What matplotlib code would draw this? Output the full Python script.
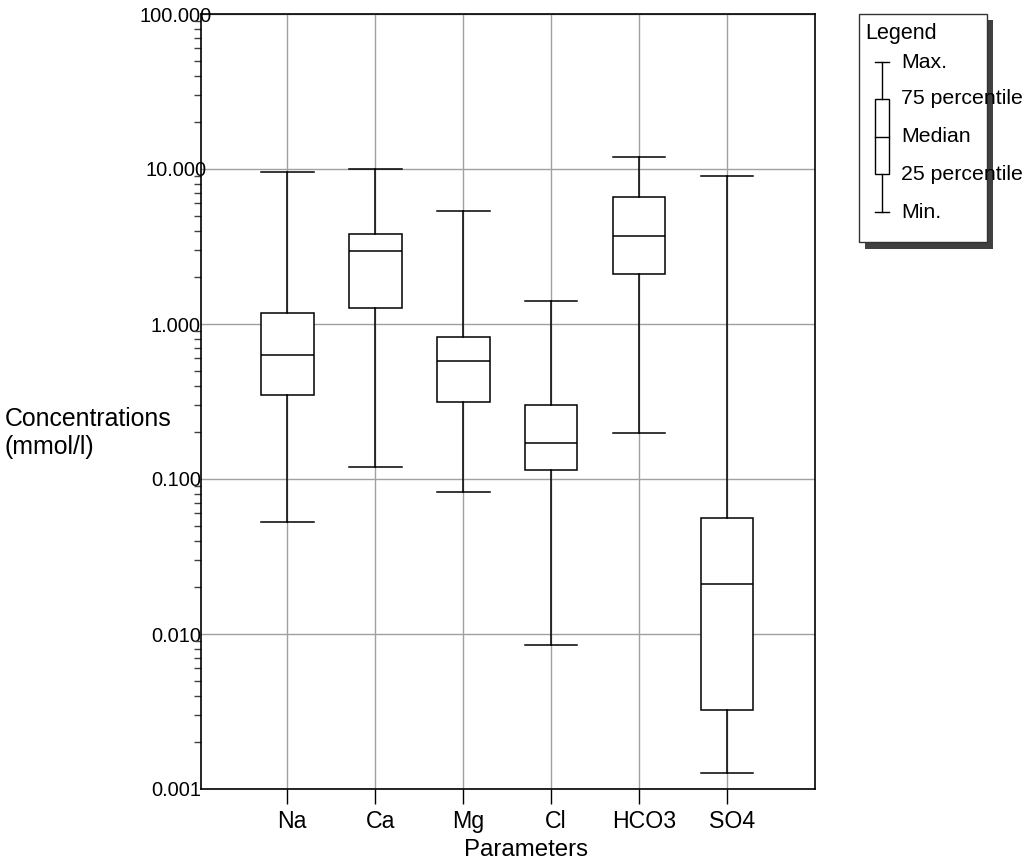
import numpy as np
import matplotlib
matplotlib.use("Agg")
import matplotlib.pyplot as plt
import matplotlib.transforms as mtransforms
from matplotlib.patches import Rectangle
from matplotlib.ticker import LogLocator, FormatStrFormatter

plt.rcParams['font.family'] = ['Liberation Sans', 'DejaVu Sans']

# box statistics (mmol/l)
params = ["Na", "Ca", "Mg", "Cl", "HCO3", "SO4"]
mins = [0.053, 0.12, 0.082, 0.0085, 0.197, 0.00126]
q25 = [0.348, 1.26, 0.312, 0.114, 2.10, 0.00322]
medians = [0.63, 2.96, 0.574, 0.171, 3.70, 0.0209]
q75 = [1.17, 3.79, 0.828, 0.302, 6.57, 0.0563]
maxs = [9.6, 9.95, 5.33, 1.40, 11.9, 9.01]

legend_labels = ["Max.", "75 percentile", "Median", "25 percentile", "Min."]

fig = plt.figure(figsize=(10.28, 8.67), dpi=100)
ax = fig.add_axes([201/1028, 78/867, 614/1028, 775/867])

stats = []
for i in range(len(params)):
    stats.append({"label": params[i], "whislo": mins[i], "q1": q25[i], "med": medians[i],
                  "q3": q75[i], "whishi": maxs[i]})

pos = np.arange(1, len(params) + 1)
ax.bxp(stats, positions=pos, widths=0.6, capwidths=0.6, showfliers=False, patch_artist=True,
       boxprops=dict(facecolor="white", edgecolor="black", linewidth=1.1),
       medianprops=dict(color="black", linewidth=1.1),
       whiskerprops=dict(color="black", linewidth=1.1),
       capprops=dict(color="black", linewidth=1.1), zorder=3)

ax.set_yscale("log")
ax.set_ylim(0.001, 100)
ax.set_xlim(0.02, 7.0)
ax.yaxis.set_major_locator(LogLocator(base=10, numticks=10))
ax.yaxis.set_minor_locator(LogLocator(base=10, subs=np.arange(2, 10), numticks=20))
ax.yaxis.set_major_formatter(FormatStrFormatter("%.3f"))
ax.yaxis.set_minor_formatter(plt.NullFormatter())
ax.set_xticks(pos)
ax.set_xticklabels(params)

ax.grid(True, which="major", color="#a0a0a0", linewidth=1.0, zorder=0)
ax.set_axisbelow(True)
ax.tick_params(axis="y", which="major", length=0, pad=18, labelsize=14.4)
ax.tick_params(axis="y", which="minor", length=5, width=1, color="#404040")
ax.tick_params(axis="x", which="major", length=11, width=1, pad=4, labelsize=16.7)
for lab in ax.get_yticklabels():
    lab.set_horizontalalignment("center")
shift = mtransforms.ScaledTranslation(5/100, 0, fig.dpi_scale_trans)
for lab in ax.get_xticklabels():
    lab.set_transform(lab.get_transform() + shift)

for sp in ax.spines.values():
    sp.set_linewidth(1.2)

ax.set_xlabel("Parameters", fontsize=17.3)
ax.xaxis.set_label_coords((526 - 201) / 614, (789 - 839) / 775)
fig.text(5/1028, 1 - 433/867, "Concentrations\n(mmol/l)", fontsize=17.9, ha="left", va="center",
         linespacing=1.25)

# legend panel drawn in pixel units
lax = fig.add_axes([0, 0, 1, 1], zorder=5)
lax.set_xlim(0, 1028)
lax.set_ylim(867, 0)
lax.axis("off")
lax.add_patch(Rectangle((865, 20), 128, 229, facecolor="#404040", edgecolor="none"))
lax.add_patch(Rectangle((859, 14), 128, 228, facecolor="white", edgecolor="#333333", linewidth=1))
lax.text(865, 33, "Legend", fontsize=15.5, va="center", ha="left")
ly = [62, 99, 137, 174, 212]
cx = 882
lax.plot([cx, cx], [ly[0], ly[1]], color="black", lw=1)
lax.plot([cx, cx], [ly[3], ly[4]], color="black", lw=1)
lax.plot([cx - 7, cx + 7], [ly[0], ly[0]], color="black", lw=1)
lax.plot([cx - 7, cx + 7], [ly[4], ly[4]], color="black", lw=1)
lax.add_patch(Rectangle((cx - 7, ly[1]), 14, ly[3] - ly[1], facecolor="white", edgecolor="black", lw=1))
lax.plot([cx - 7, cx + 7], [ly[2], ly[2]], color="black", lw=1)
for y, t in zip(ly, legend_labels):
    lax.text(901, y, t, fontsize=15.3, va="center", ha="left")

fig.savefig("out.png", dpi=100)
